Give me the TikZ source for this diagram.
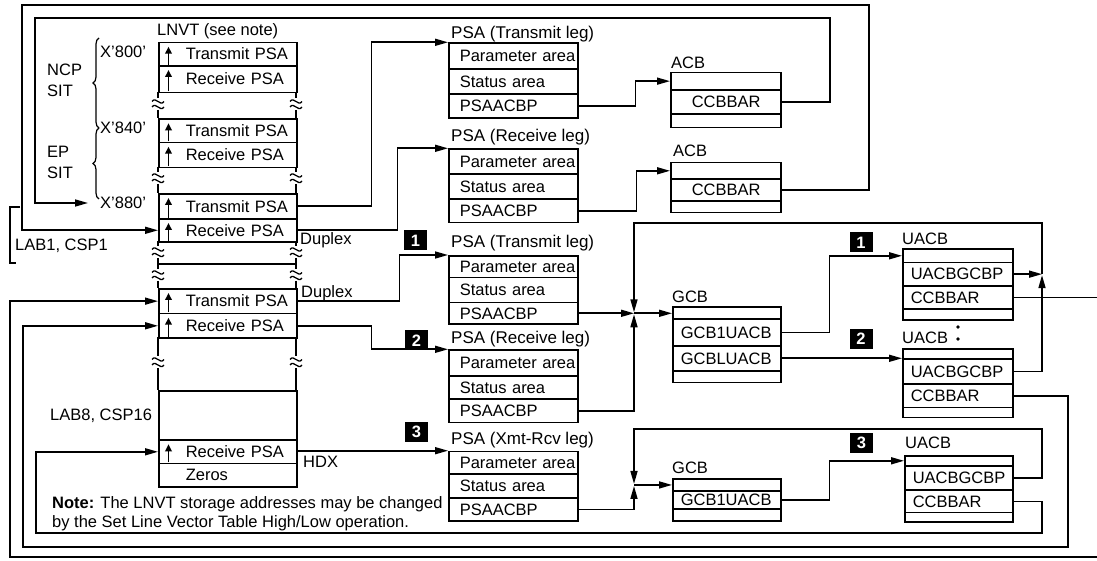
\documentclass[tikz,border=0pt]{standalone}
\usepackage{fontspec}
\setmainfont{Liberation Sans}
\usetikzlibrary{arrows.meta,calc,decorations.pathreplacing}

\newcommand\fsmain{\fontsize{16.5bp}{19bp}\selectfont}
\newcommand\fstitle{\fontsize{17bp}{19bp}\selectfont}
\newcommand\fsnote{\fontsize{16.5bp}{20bp}\selectfont}

\tikzset{
  wire/.style={line width=1.6bp},
  arr/.style={wire, -{Triangle[length=13bp,width=7bp]}},
  cellbox/.style={draw, line width=1.6bp, anchor=north west, inner ysep=0pt,
    inner xsep=1bp, align=left, text height=11.5bp, text depth=0pt, font=\fsmain},
  blankbox/.style={cellbox, text height=0pt},
  lbl/.style={anchor=west, inner xsep=0pt, inner ysep=0pt,
    text height=11.5bp, text depth=0pt, font=\fsmain},
  ttl/.style={lbl, font=\fstitle},
  numbox/.style={fill=black, text=white, font=\fsmain\bfseries,
    minimum width=23bp, minimum height=20bp, inner sep=0pt},
  uparr/.style={line width=1.8bp, -{Triangle[length=7bp,width=6.5bp]}},
  brk/.pic={
    \draw[line width=1.3bp] (-6,-2.5) .. controls (-2,-8) and (2,3) .. (6,-2.5);
    \draw[line width=1.3bp] (-6,3) .. controls (-2,-2.5) and (2,8.5) .. (6,3);
  },
}

% one row of a control-block layout: name, left x, top y, bottom y, width, text inset, text
\newcommand\cellnode[7]{%
  \pgfmathsetmacro\cellh{#4-#3}%
  \pgfmathsetmacro\cellw{#5-2}%
  \pgfmathsetmacro\cellin{#6-1}%
  \node[cellbox, minimum height=\cellh bp, text width=\cellw bp] (#1) at (#2,#3)
    {\hspace*{\cellin bp}#7};%
}
% an empty row: name, left x, top y, bottom y, width
\newcommand\blankcell[5]{%
  \pgfmathsetmacro\cellh{#4-#3}%
  \pgfmathsetmacro\cellw{#5}%
  \node[blankbox, minimum height=\cellh bp, minimum width=\cellw bp, inner xsep=0pt] (#1) at (#2,#3) {};%
}

\begin{document}
\begin{tikzpicture}[x=1bp,y=-1bp]
\useasboundingbox (0,0) rectangle (1097,561);

% ---------------- LNVT ----------------
\node[lbl] (lnvtT) at (157,30) {LNVT (see note)};
\cellnode{t1}{158}{41.7}{65}{138}{27}{Transmit PSA}
\cellnode{r1}{158}{65}{91.7}{138}{27}{Receive PSA}
\cellnode{t2}{158}{118.3}{141.7}{138}{27}{Transmit PSA}
\cellnode{r2}{158}{141.7}{166.7}{138}{27}{Receive PSA}
\cellnode{t3}{158}{193}{218}{138}{27}{Transmit PSA}
\cellnode{r3}{158}{218}{241}{138}{27}{Receive PSA}
\cellnode{t4}{158}{288}{312.7}{138}{27}{Transmit PSA}
\cellnode{r4}{158}{312.7}{337.3}{138}{27}{Receive PSA}
\blankcell{e1}{158}{390}{439.3}{138}
\cellnode{r5}{158}{439.3}{462.7}{138}{27}{Receive PSA}
\cellnode{z1}{158}{462.7}{486}{138}{27}{Zeros}

\foreach \n in {t1,r1,t2,r2,t3,r3,t4,r4,r5}
  \draw[uparr] ($(\n.south west)+(10.5,-2)$) -- ($(\n.north west)+(10.5,5)$);

% broken stretches of the table
\foreach \x in {158,296} {
  \draw[wire] (\x,91.7) -- (\x,98) (\x,110) -- (\x,118.3)
    (\x,166.7) -- (\x,172) (\x,184) -- (\x,193)
    (\x,241) -- (\x,246) (\x,258) -- (\x,269) (\x,281) -- (\x,288)
    (\x,337.3) -- (\x,356) (\x,368) -- (\x,390);
  \foreach \y in {104,178,252,275,362} \pic at (\x,\y) {brk};
}
\draw[wire] (158,264) -- (296,264);

% left-hand labels
\node[lbl] (x800) at (100,52) {X'800'};
\node[lbl] (x840) at (100,128) {X'840'};
\node[lbl, inner xsep=2bp] (x880) at (98,203) {X'880'};
\node[lbl] (ncp) at (47,70) {NCP};
\node[lbl] (sit1) at (47,91) {SIT};
\node[lbl] (ep) at (47,152) {EP};
\node[lbl] (sit2) at (47,173) {SIT};
\node[lbl] (lab1) at (15,245) {LAB1, CSP1};
\node[lbl] (lab8) at (50,415) {LAB8, CSP16};
\draw[line width=1.2bp, decorate, decoration={brace, amplitude=6bp}] (99,128) -- (99,38);
\draw[line width=1.2bp, decorate, decoration={brace, amplitude=6bp}] (99,199) -- (99,128);
\draw[line width=1.3bp] (20,207) -- (10,207) -- (10,263) -- (16,263);

\node[lbl, font=\fsnote] (note1) at (52,503) {\textbf{Note:} The LNVT storage addresses may be changed};
\node[lbl, font=\fsnote] (note2) at (52,522) {by the Set Line Vector Table High/Low operation.};

% ---------------- PSAs ----------------
\node[ttl] (p1T) at (451,32.5) {PSA (Transmit leg)};
\cellnode{p1a}{448}{42.3}{68.3}{129}{11}{Parameter area}
\cellnode{p1b}{448}{68.3}{93.3}{129}{11}{Status area}
\cellnode{p1c}{448}{93.3}{117.3}{129}{11}{PSAACBP}

\node[ttl] (p2T) at (451,136) {PSA (Receive leg)};
\cellnode{p2a}{448}{148.3}{173.3}{129}{11}{Parameter area}
\cellnode{p2b}{448}{173.3}{198.3}{129}{11}{Status area}
\cellnode{p2c}{448}{198.3}{221.7}{129}{11}{PSAACBP}

\node[ttl] (p3T) at (451,241.5) {PSA (Transmit leg)};
\cellnode{p3a}{448}{255}{276.7}{129}{11}{Parameter area}
\cellnode{p3b}{448}{276.7}{301.7}{129}{11}{Status area}
\cellnode{p3c}{448}{301.7}{323.3}{129}{11}{PSAACBP}

\node[ttl] (p4T) at (451,337.5) {PSA (Receive leg)};
\cellnode{p4a}{448}{349.3}{375}{129}{11}{Parameter area}
\cellnode{p4b}{448}{375}{398.3}{129}{11}{Status area}
\cellnode{p4c}{448}{398.3}{421.7}{129}{11}{PSAACBP}

\node[ttl] (p5T) at (451,439) {PSA (Xmt-Rcv leg)};
\cellnode{p5a}{448}{450.7}{473.3}{129}{11}{Parameter area}
\cellnode{p5b}{448}{473.3}{497.3}{129}{11}{Status area}
\cellnode{p5c}{448}{497.3}{520}{129}{11}{PSAACBP}

% ---------------- ACBs ----------------
\node[lbl] (a1T) at (671,62.5) {ACB};
\blankcell{a1a}{670}{71.7}{89}{110}
\cellnode{a1c}{670}{89}{113.3}{110}{21}{CCBBAR}
\blankcell{a1d}{670}{113.3}{126.7}{110}

\node[lbl] (a2T) at (673,151) {ACB};
\blankcell{a2a}{670}{161.7}{178.3}{110}
\cellnode{a2c}{670}{178.3}{200}{110}{21}{CCBBAR}
\blankcell{a2d}{670}{200}{211.7}{110}

% ---------------- GCBs ----------------
\node[lbl] (g1T) at (672,296.7) {GCB};
\blankcell{g1a}{672}{306}{318.3}{108}
\cellnode{g1b}{672}{318.3}{345}{108}{8}{GCB1UACB}
\cellnode{g1c}{672}{345}{370}{108}{8}{GCBLUACB}
\blankcell{g1d}{672}{370}{381.7}{108}

\node[lbl] (g2T) at (672,467.5) {GCB};
\blankcell{g2a}{672}{478.3}{490}{108}
\cellnode{g2b}{672}{490}{508.3}{108}{8}{GCB1UACB}
\blankcell{g2d}{672}{508.3}{520}{108}

% ---------------- UACBs ----------------
\node[lbl] (u1T) at (902,239) {UACB};
\blankcell{u1a}{902}{248.3}{261.7}{110}
\cellnode{u1g}{902}{261.7}{285}{110}{8}{UACBGCBP}
\cellnode{u1c}{902}{285}{308.3}{110}{8}{CCBBAR}
\blankcell{u1d}{902}{308.3}{319.3}{110}

\node[lbl] (u2T) at (902,337.5) {UACB};
\fill (958,327) circle (1.8bp) (958,339) circle (1.8bp);
\blankcell{u2a}{902}{348.3}{358.3}{110}
\cellnode{u2g}{902}{358.3}{383.3}{110}{8}{UACBGCBP}
\cellnode{u2c}{902}{383.3}{406.7}{110}{8}{CCBBAR}
\blankcell{u2d}{902}{406.7}{416.7}{110}

\node[lbl] (u3T) at (905,443) {UACB};
\blankcell{u3a}{904}{455}{465}{108}
\cellnode{u3g}{904}{465}{489.3}{108}{8}{UACBGCBP}
\cellnode{u3c}{904}{489.3}{511.7}{108}{8}{CCBBAR}
\blankcell{u3d}{904}{511.7}{521}{108}

% ---------------- markers and line labels ----------------
\node[numbox] (k1a) at (415.5,240.5) {1};
\node[numbox] (k2a) at (416.5,340.5) {2};
\node[numbox] (k3a) at (416.5,431.7) {3};
\node[numbox] (k1b) at (861,242.5) {1};
\node[numbox] (k2b) at (861,339) {2};
\node[numbox] (k3b) at (861.5,443) {3};
\node[lbl] (dup1) at (300,239) {Duplex};
\node[lbl] (dup2) at (301,292) {Duplex};
\node[lbl] (hdx) at (303,462) {HDX};

% ---------------- connectors ----------------
\coordinate (xj) at (634,0);
\coordinate (xr) at (1042,0);
\coordinate (edge) at (1097,0);
\coordinate (offB) at (1097,557);
\coordinate (j1) at (xj |- p3c.east);
\coordinate (j2) at (xr |- u1g.east);
\coordinate (j3) at (xj |- g2a.west);

% LNVT entries to the PSAs
\draw[arr] (t3.east) -- ++(74,0) |- (p1a.north west);
\draw[arr] (r3.east) -- ++(100,0) |- (p2a.north west);
\draw[arr] (t4.east) -- ++(102,0) |- (p3a.north west);
\draw[arr] (r4.east) -- ++(74,0) |- (p4a.north west);
\draw[arr] (r5.east |- p5a.north west) -- (p5a.north west);

% PSA to ACB
\draw[arr] (p1c.east) -- ++(57,0) |- (a1a.west);
\draw[arr] (p2c.east) -- ++(58,0) |- (a2a.west);

% ACB back to the LNVT
\draw[arr, shorten >=10bp] (a1c.east) -| (830,18) -- (35,18) |- (x880.west);
\draw[arr] (a2c.east) -| (869,5) -- (22,5) |- (r3.west);

% duplex GCB chain
\draw[arr] (p3c.east) -- (j1);
\draw[arr] (p4c.east) -| ([yshift=-1bp]j1);
\draw[arr] (j2) |- ($(xj)+(0,223)$) -- ([yshift=1bp]j1);
\draw[arr] (j1) -- (j1 -| g1a.west);
\draw[arr] (g1b.east) -- ++(48,0) |- (u1a.west);
\draw[arr] (g1c.east) -- (g1c.east -| u2a.west);
\draw[arr] (u1g.east) -- (j2);
\draw[arr] (u2g.east) -| ([yshift=-1bp]j2);
\draw[wire] (u1c.east) -- (u1c.east -| edge);
\draw[arr] (u2c.east) -| (1068,547) -- (23,547) |- (r4.west);
\draw[arr] (offB) -- (10,557) |- (t4.west);

% half-duplex GCB chain
\draw[arr] (p5c.east) -| ([yshift=-1bp]j3);
\draw[arr] (u3g.east) -| (1042,429) -| ([yshift=1bp]j3);
\draw[arr] (j3) -- (g2a.west);
\draw[arr] (g2b.east) -- ++(48,0) |- (u3a.west);
\draw[arr] (u3c.east) -| (1042,533) -- (36,533) |- (r5.west);
\end{tikzpicture}
\end{document}
